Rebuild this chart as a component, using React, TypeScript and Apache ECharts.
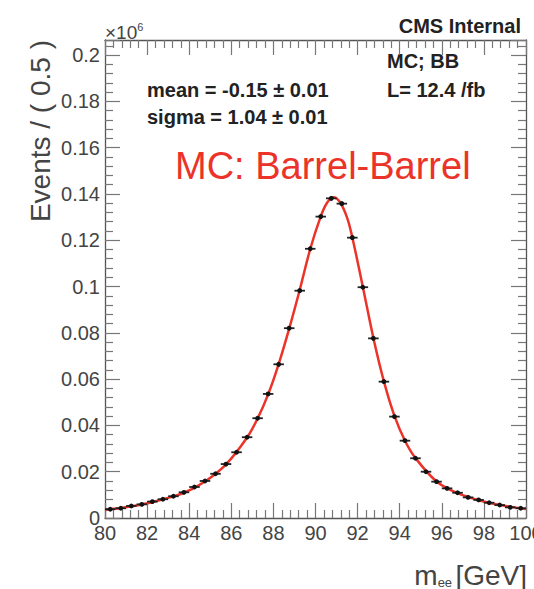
import React, { useEffect, useRef } from "react";
import * as echarts from "echarts";

// Dielectron invariant mass histogram, 0.5 GeV bins (units of 10^6 events)
const massBins = [
  80.25, 80.75, 81.25, 81.75, 82.25, 82.75, 83.25, 83.75, 84.25, 84.75,
  85.25, 85.75, 86.25, 86.75, 87.25, 87.75, 88.25, 88.75, 89.25, 89.75,
  90.25, 90.75, 91.25, 91.75, 92.25, 92.75, 93.25, 93.75, 94.25, 94.75,
  95.25, 95.75, 96.25, 96.75, 97.25, 97.75, 98.25, 98.75, 99.25, 99.75,
];
const events = [
  0.0038, 0.0042, 0.0052, 0.0059, 0.0071, 0.0081, 0.0094, 0.0111, 0.0134, 0.016,
  0.0191, 0.0233, 0.0284, 0.0349, 0.0431, 0.0536, 0.0664, 0.082, 0.0982, 0.1163,
  0.1302, 0.1381, 0.1358, 0.1211, 0.0997, 0.0776, 0.0589, 0.0438, 0.0334, 0.0258,
  0.02, 0.0157, 0.0128, 0.0109, 0.0089, 0.0078, 0.0066, 0.0056, 0.0046, 0.0042,
];
const eventErr = [
  0.0006, 0.0006, 0.0006, 0.0006, 0.0006, 0.0006, 0.0006, 0.0006, 0.0007, 0.0007,
  0.0007, 0.0007, 0.0008, 0.0008, 0.0008, 0.0008, 0.0009, 0.0009, 0.0009, 0.001,
  0.001, 0.001, 0.001, 0.001, 0.0009, 0.0009, 0.0009, 0.0008, 0.0008, 0.0008,
  0.0007, 0.0007, 0.0007, 0.0007, 0.0006, 0.0006, 0.0006, 0.0006, 0.0006, 0.0006,
];
const binHalfWidth = 0.25;

// Fitted line shape
const fitMass = [
  80, 80.75, 81.75, 82.75, 83.75, 84.75, 85.75, 86.75, 87.25, 87.75, 88.25,
  88.75, 89.25, 89.75, 90.25, 90.55, 90.85, 91.15, 91.5, 91.75, 92.25, 92.75,
  93.25, 93.75, 94.25, 94.75, 95.75, 96.75, 97.75, 98.75, 100,
];
const fitEvents = [
  0.0035, 0.0043, 0.0058, 0.0081, 0.0109, 0.0158, 0.0232, 0.0348, 0.043, 0.0534,
  0.0665, 0.0818, 0.0985, 0.1162, 0.1303, 0.1362, 0.1386, 0.1366, 0.1298, 0.1212,
  0.0998, 0.0778, 0.059, 0.0441, 0.0334, 0.0259, 0.0158, 0.0107, 0.0077, 0.0056,
  0.0039,
];

const xTicks = { min: 80, max: 100, interval: 2 };
const yTicks = { min: 0, max: 0.2065, interval: 0.02 };

const FONT = "'Liberation Sans', Arial, Helvetica, sans-serif";
const AXIS_COLOR = "#555";
const TICK_COLOR = "#777";
const LABEL_COLOR = "#444";
const TEXT_COLOR = "#222";
const RED = "#ec3329";

export default function App() {
  const ref = useRef<HTMLDivElement>(null);

  useEffect(() => {
    if (!ref.current) return;
    const chart = echarts.init(ref.current, undefined, { renderer: "svg" });

    const points = massBins.map((m, i) => [m, events[i], eventErr[i]]);
    const fit = fitMass.map((m, i) => [m, fitEvents[i]]);

    const yLabel = (v: number) => {
      const k = Math.round(v / yTicks.interval);
      if (Math.abs(v - k * yTicks.interval) > 1e-9) return "";
      return String(parseFloat((k * yTicks.interval).toFixed(2)));
    };

    const tickStyle = {
      axisTick: { show: true, inside: true, length: 15, lineStyle: { color: TICK_COLOR, width: 1.2 } },
      minorTick: { show: true, splitNumber: 5, length: 8, lineStyle: { color: TICK_COLOR, width: 1.2 } },
      axisLine: { show: true, onZero: false, lineStyle: { color: AXIS_COLOR, width: 1.3 } },
      splitLine: { show: false },
    };

    const annotation = (text: string, x: number, y: number) => ({
      type: "text",
      x,
      y,
      style: {
        text,
        fontFamily: FONT,
        fontSize: 20,
        fontWeight: "bold",
        fill: TEXT_COLOR,
        textVerticalAlign: "middle",
      },
    });

    chart.setOption({
      animation: false,
      backgroundColor: "#fff",
      grid: {
        left: 105,
        right: 8,
        top: 40,
        bottom: 71,
        containLabel: false,
        outerBoundsMode: "none",
      },
      xAxis: [
        {
          type: "value",
          ...xTicks,
          position: "bottom",
          ...tickStyle,
          axisLabel: {
            color: LABEL_COLOR,
            fontFamily: FONT,
            fontSize: 20,
            margin: 5,
            showMaxLabel: true,
            showMinLabel: true,
            hideOverlap: false,
          },
        },
        {
          type: "value",
          ...xTicks,
          position: "top",
          ...tickStyle,
          axisLabel: { show: false },
        },
      ],
      yAxis: [
        {
          type: "value",
          ...yTicks,
          position: "left",
          ...tickStyle,
          axisLabel: {
            color: LABEL_COLOR,
            fontFamily: FONT,
            fontSize: 20,
            margin: 5,
            formatter: yLabel,
          },
        },
        {
          type: "value",
          ...yTicks,
          position: "right",
          ...tickStyle,
          axisLabel: { show: false },
        },
      ],
      series: [
        {
          type: "line",
          data: fit,
          smooth: 0.35,
          showSymbol: false,
          lineStyle: { color: RED, width: 2.5 },
          z: 2,
        },
        {
          type: "custom",
          data: points,
          z: 3,
          renderItem: (_params: any, api: any) => {
            const x = api.value(0);
            const y = api.value(1);
            const e = api.value(2);
            const l = api.coord([x - binHalfWidth, y]);
            const r = api.coord([x + binHalfWidth, y]);
            const t = api.coord([x, y + e]);
            const b = api.coord([x, y - e]);
            const c = api.coord([x, y]);
            return {
              type: "group",
              children: [
                {
                  type: "line",
                  shape: { x1: l[0], y1: l[1], x2: r[0], y2: r[1] },
                  style: { stroke: "#222", lineWidth: 1.8 },
                },
                {
                  type: "line",
                  shape: { x1: t[0], y1: t[1], x2: b[0], y2: b[1] },
                  style: { stroke: "#222", lineWidth: 1.8 },
                },
                {
                  type: "circle",
                  shape: { cx: c[0], cy: c[1], r: 2.4 },
                  style: { fill: "#111" },
                },
              ],
            };
          },
        },
      ],
      graphic: [
        {
          type: "text",
          x: 105,
          y: 32,
          style: {
            text: "{b|×10}{s|6}",
            textVerticalAlign: "middle",
            rich: {
              b: { fontFamily: FONT, fontSize: 19, fill: LABEL_COLOR },
              s: { fontFamily: FONT, fontSize: 11, fill: LABEL_COLOR, verticalAlign: "top", padding: [0, 0, 10, 0] },
            },
          },
        },
        {
          type: "text",
          x: 521,
          y: 26,
          style: {
            text: "CMS Internal",
            fontFamily: FONT,
            fontSize: 20,
            fontWeight: "bold",
            fill: TEXT_COLOR,
            textAlign: "right",
            textVerticalAlign: "middle",
          },
        },
        annotation("MC; BB", 387, 61),
        annotation("L= 12.4 /fb", 387, 90),
        annotation("mean = -0.15 ± 0.01", 147, 90),
        annotation("sigma = 1.04 ± 0.01", 147, 117),
        {
          type: "text",
          x: 175,
          y: 166,
          style: {
            text: "MC: Barrel-Barrel",
            fontFamily: FONT,
            fontSize: 38,
            fill: RED,
            textVerticalAlign: "middle",
          },
        },
        {
          type: "text",
          x: 40,
          y: 40,
          rotation: Math.PI / 2,
          style: {
            text: "Events / ( 0.5 )",
            fontFamily: FONT,
            fontSize: 28,
            fill: LABEL_COLOR,
            textAlign: "right",
            textVerticalAlign: "middle",
          },
        },
        {
          type: "text",
          x: 527,
          y: 575,
          style: {
            text: "{m|m}{s|ee} {m|[GeV]}",
            textAlign: "right",
            textVerticalAlign: "middle",
            rich: {
              m: { fontFamily: FONT, fontSize: 28, fill: LABEL_COLOR },
              s: { fontFamily: FONT, fontSize: 13, fill: LABEL_COLOR, verticalAlign: "bottom", padding: [10, 0, 0, 0] },
            },
          },
        },
      ],
    });

    return () => chart.dispose();
  }, []);

  return (
    <div
      ref={ref}
      style={{ position: "fixed", left: 0, top: 0, width: 534, height: 589, overflow: "hidden" }}
    />
  );
}
